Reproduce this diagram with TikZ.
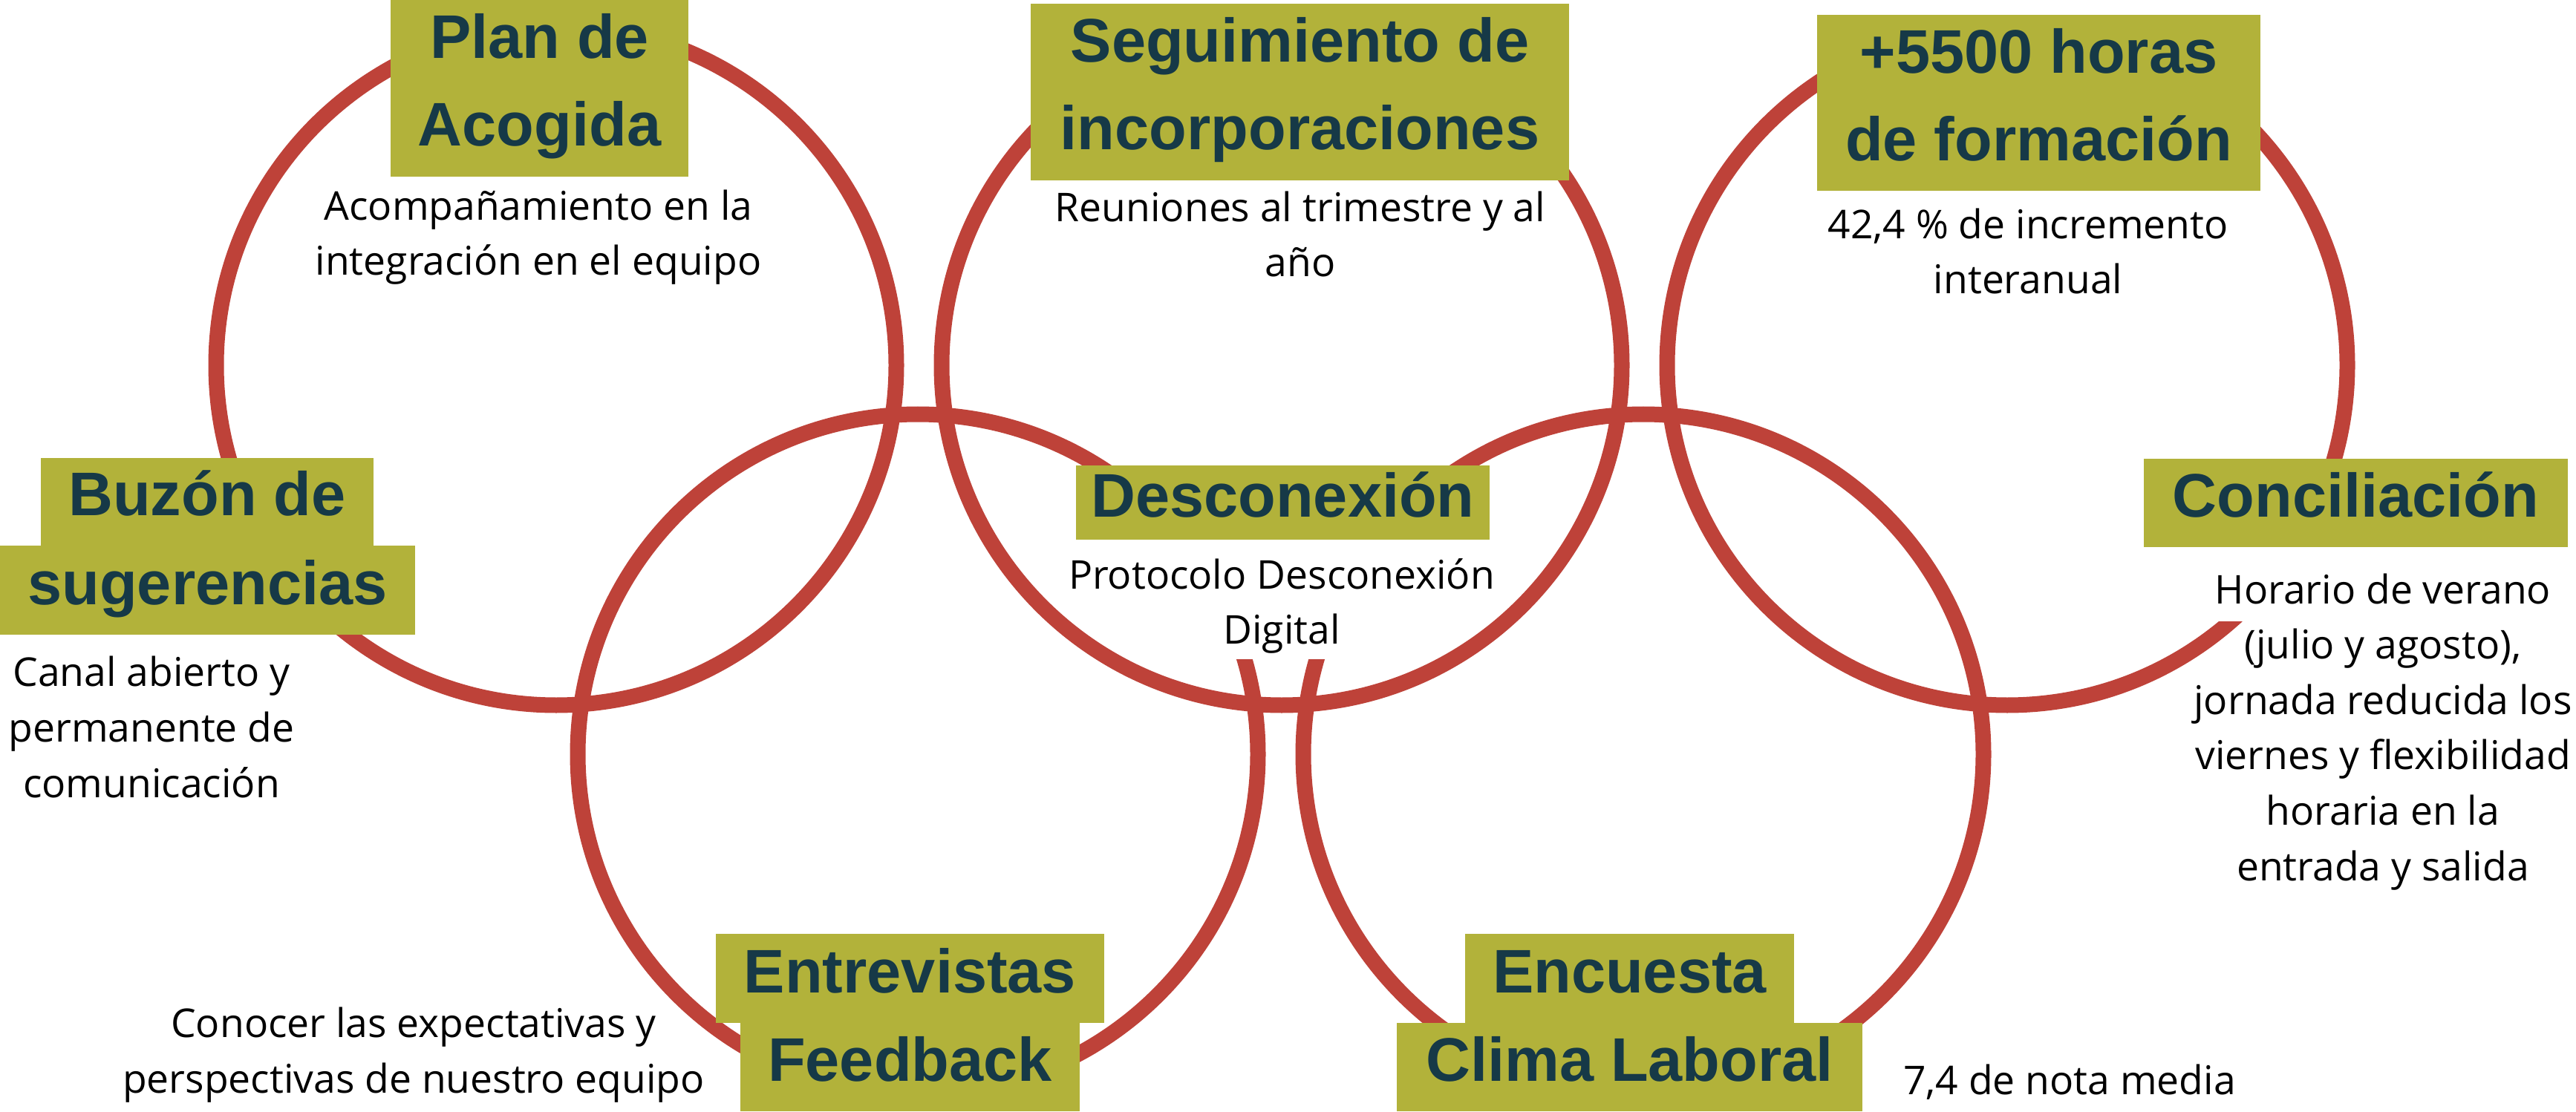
\documentclass[tikz,border=0pt]{standalone}
\usepackage{fontspec}
\setmainfont{Open Sans}
\newfontfamily\tagfont{Liberation Sans}
\usepackage{tikz}
\usepackage{xcolor}
\definecolor{ringred}{RGB}{190,66,57}
\definecolor{tagolive}{RGB}{178,178,58}
\definecolor{tagtext}{RGB}{22,57,71}

\begin{document}
\begin{tikzpicture}[
    ring/.style={draw=ringred, line width=0.21cm},
    tag/.style={fill=tagolive, text=tagtext, inner sep=0pt, align=center,
      font=\tagfont\bfseries\fontsize{23.6}{33.6}\selectfont,
      text height=0.58cm, text depth=0.20cm},
    note/.style={inner sep=0pt, align=center, anchor=base,
      font=\fontsize{15.2}{21.2}\selectfont}
  ]
        \useasboundingbox (0, 0) rectangle (34.69, 14.97);
        \draw[ring] (7.49, 10.05) circle (4.58);
        \draw[ring] (17.26, 10.05) circle (4.58);
        \draw[ring] (27.03, 10.05) circle (4.58);
        \draw[ring] (12.36, 4.81) circle (4.58);
        \draw[ring] (22.13, 4.81) circle (4.58);
        \node[note, fill=white, inner xsep=0.05cm, inner ysep=0.26cm] (descNoteA) at (17.26, 7.04) {Protocolo Desconexión};
        \node[note, fill=white, inner xsep=0.15cm, inner ysep=0.08cm] (descNoteB) at (17.26, 6.30) {Digital};
        \node[note, fill=white, inner xsep=0.05cm, text height=0.76cm, text depth=0.24cm] (concilNoteA) at (32.09, 6.84) {Horario de verano};
        \node[tag, minimum width=4.01cm, minimum height=2.38cm, text height=1.76cm] (plan) at (7.265, 13.78) {Plan de\\Acogida};
        \node[tag, minimum width=7.25cm, minimum height=2.38cm, text height=1.76cm] (segui) at (17.505, 13.73) {Seguimiento de\\incorporaciones};
        \node[tag, minimum width=5.97cm, minimum height=2.37cm, text height=1.76cm] (horas) at (27.455, 13.585) {+5500 horas\\de formación};
        \node[tag, minimum width=5.71cm, minimum height=1.19cm] (concil) at (31.725, 8.195) {Conciliación};
        \node[tag, minimum width=5.57cm, minimum height=1.00cm] (desc) at (17.275, 8.20) {Desconexión};
        \node[tag, minimum width=4.48cm, minimum height=1.18cm] (buzonA) at (2.79, 8.21) {Buzón de};
        \node[tag, minimum width=5.59cm, minimum height=1.20cm] (buzonB) at (2.795, 7.02) {sugerencias};
        \node[tag, minimum width=5.23cm, minimum height=1.20cm] (entrevA) at (12.255, 1.79) {Entrevistas};
        \node[tag, minimum width=4.57cm, minimum height=1.19cm] (entrevB) at (12.255, 0.595) {Feedback};
        \node[tag, minimum width=4.43cm, minimum height=1.20cm] (encuA) at (21.945, 1.79) {Encuesta};
        \node[tag, minimum width=6.27cm, minimum height=1.19cm] (encuB) at (21.945, 0.595) {Clima Laboral};
        \node[note] (planNote) at (7.25, 11.26) {Acompañamiento en la\\integración en el equipo};
        \node[note] (seguiNote) at (17.51, 11.24) {Reuniones al trimestre y al\\año};
        \node[note] (horasNote) at (27.31, 11.01) {42,4 \% de incremento\\interanual};
        \node[note] (buzonNote) at (2.04, 4.23) {Canal abierto y\\permanente de\\comunicación};
        \node[note] (entrevNote) at (5.57, 0.25) {Conocer las expectativas y\\perspectivas de nuestro equipo};
        \node[note] (encuNote) at (27.87, 0.23) {7,4 de nota media};
        \node[note] (concilNoteB) at (32.09, 3.11) {(julio y agosto),\\jornada reducida los\\viernes y flexibilidad\\horaria en la\\entrada y salida};
\end{tikzpicture}
\end{document}
